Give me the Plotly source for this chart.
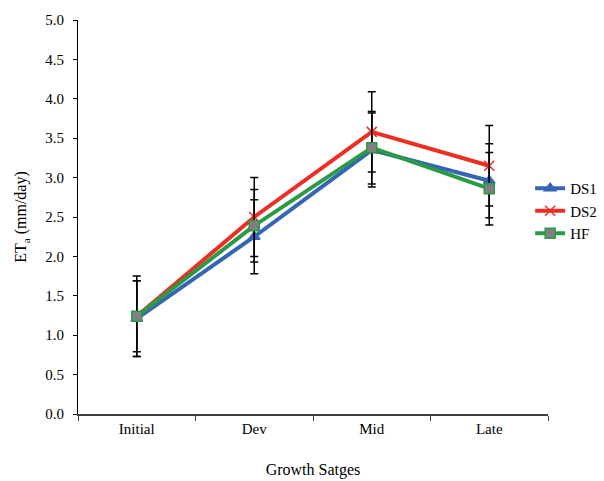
import plotly.graph_objects as go

stages = ["Initial", "Dev", "Mid", "Late"]
ds1 = [1.21, 2.25, 3.35, 2.96]
ds1_err = [0.48, 0.47, 0.47, 0.47]
ds2 = [1.24, 2.50, 3.58, 3.15]
ds2_err = [0.51, 0.50, 0.51, 0.51]
hf = [1.24, 2.39, 3.38, 2.86]
hf_err = [0.45, 0.46, 0.46, 0.46]

font_family = "Liberation Serif"

fig = go.Figure()

def add(name, y, err, color, symbol, msize, mcolor, mline):
    fig.add_trace(go.Scatter(
        x=stages, y=y, name=name, mode="lines+markers",
        line=dict(color=color, width=4),
        marker=dict(symbol=symbol, size=msize, color=mcolor,
                    line=dict(color=mline, width=1.5)),
        error_y=dict(type="data", array=err, visible=True,
                     color="black", thickness=1.5, width=4),
    ))

add("DS1", ds1, ds1_err, "#3565b5", "triangle-up", 10, "#3565b5", "#3565b5")
add("DS2", ds2, ds2_err, "#ee2e24", "x-thin", 10, "#ee2e24", "#ee2e24")
add("HF", hf, hf_err, "#2b9a44", "square", 10, "#808080", "#2b9a44")

fig.update_layout(
    width=604, height=481,
    margin=dict(l=78, r=56, t=20, b=67, autoexpand=False),
    plot_bgcolor="white", paper_bgcolor="white",
    font=dict(family=font_family, size=15, color="black"),
    showlegend=True,
    legend=dict(x=0.962, y=0.515, xanchor="left", yanchor="middle",
                font=dict(family=font_family, size=15),
                bgcolor="rgba(0,0,0,0)", itemwidth=30, tracegroupgap=0),
)

fig.update_xaxes(
    range=[-0.5, 3.5], automargin=False,
    showgrid=False, showline=True, linecolor="#404040", linewidth=2,
    ticks="outside", tickson="boundaries", ticklen=5, tickcolor="#404040",
    tickfont=dict(family=font_family, size=15),
    title=dict(text="Growth Satges", font=dict(family=font_family, size=16), standoff=28),
)
fig.update_yaxes(
    range=[0, 5], dtick=0.5, tickformat=".1f", automargin=False,
    showgrid=False, showline=True, linecolor="black", linewidth=1,
    ticks="outside", ticklen=4, tickcolor="black", zeroline=False,
    ticklabelstandoff=6,
    tickfont=dict(family=font_family, size=15),
    title=dict(text="ET<sub>a</sub> (mm/day)", font=dict(family=font_family, size=16), standoff=14),
)

fig.write_html("out.html")
